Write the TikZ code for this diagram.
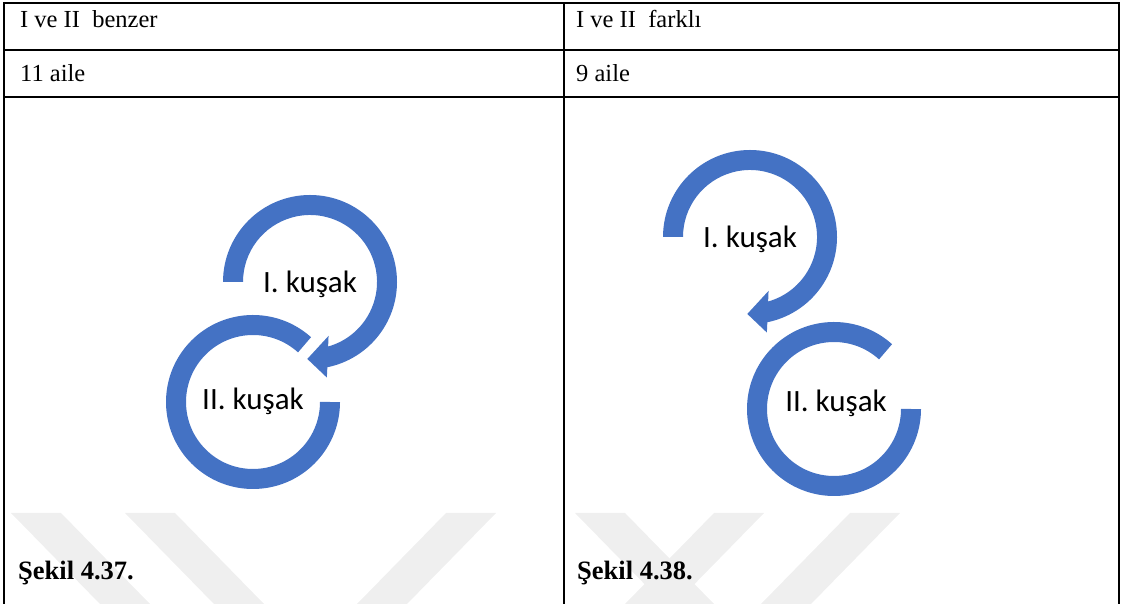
\documentclass[tikz,border=0pt]{standalone}
\usepackage{fontspec}
\setmainfont{Liberation Serif}
\newfontfamily\kusakfont{Carlito}
\definecolor{kusakmavi}{HTML}{4472C4}
\definecolor{filigran}{HTML}{EFEFEF}
\tikzset{
  kusak/.style={fill=kusakmavi},
  halka/.style={draw=kusakmavi, line width=20pt},
  etiket/.style={font=\kusakfont\fontsize{31}{36}\selectfont, inner sep=0pt, anchor=base},
  hucre/.style={font=\fontsize{24.5}{28}\selectfont, inner sep=0pt, anchor=base west},
  sekil/.style={font=\bfseries\fontsize{26.5}{30}\selectfont, inner sep=0pt, anchor=base west},
  cizgi/.style={line width=2pt}
}
\begin{document}
\begin{tikzpicture}[x=1pt, y=1pt]
  \useasboundingbox (0,0) rectangle (1121,604);

  % filigran
  \foreach \a in {11, 125, 575}{
    \fill[filigran] (\a,91) -- (\a+50,91) -- (\a+139,0) -- (\a+89,0) -- cycle;
  }
  \foreach \a in {446, 714, 850}{
    \fill[filigran] (\a,91) -- (\a+50,91) -- (\a-39,0) -- (\a-89,0) -- cycle;
  }

  % tablo
  \draw[cizgi] (3.5,0) -- (3.5,601) -- (1119,601) -- (1119,0);
  \draw[cizgi] (564,0) -- (564,601);
  \draw[cizgi] (3.5,554) -- (1119,554);
  \draw[cizgi] (3.5,507) -- (1119,507);

  \node[hucre] (baslikA) at (20,576) {I ve II\ \ benzer};
  \node[hucre] (baslikB) at (576,576) {I ve II\ \ farklı};
  \node[hucre] (aileA) at (20,522) {11 aile};
  \node[hucre] (aileB) at (576,522) {9 aile};

  % sekil 4.37
  \begin{scope}[shift={(310,322)}]
    \fill[kusak] (180:87) arc[start angle=180, end angle=-78.5, radius=87]
      -- (-80:97) -- (-92:77) -- (-71:57) -- (-74.3:67)
      arc[start angle=-74.3, end angle=180, radius=67] -- cycle;
  \end{scope}
  \begin{scope}[shift={(253,202)}]
    \draw[halka] (48:77) arc[start angle=48, end angle=360, radius=77];
  \end{scope}
  \node[etiket] (kusakIA) at (310,311) {I. kuşak};
  \node[etiket] (kusakIIA) at (253,194) {II. kuşak};

  % sekil 4.38
  \begin{scope}[shift={(750,367)}]
    \fill[kusak] (180:87) arc[start angle=180, end angle=-78.5, radius=87]
      -- (-80:97) -- (-92:77) -- (-71:57) -- (-74.3:67)
      arc[start angle=-74.3, end angle=180, radius=67] -- cycle;
  \end{scope}
  \begin{scope}[shift={(834,195)}]
    \draw[halka] (48:77) arc[start angle=48, end angle=360, radius=77];
  \end{scope}
  \node[etiket] (kusakIB) at (750,356) {I. kuşak};
  \node[etiket] (kusakIIB) at (836,192) {II. kuşak};

  \node[sekil] (sekilA) at (18,24) {Şekil 4.37.};
  \node[sekil] (sekilB) at (577,24) {Şekil 4.38.};
\end{tikzpicture}
\end{document}
